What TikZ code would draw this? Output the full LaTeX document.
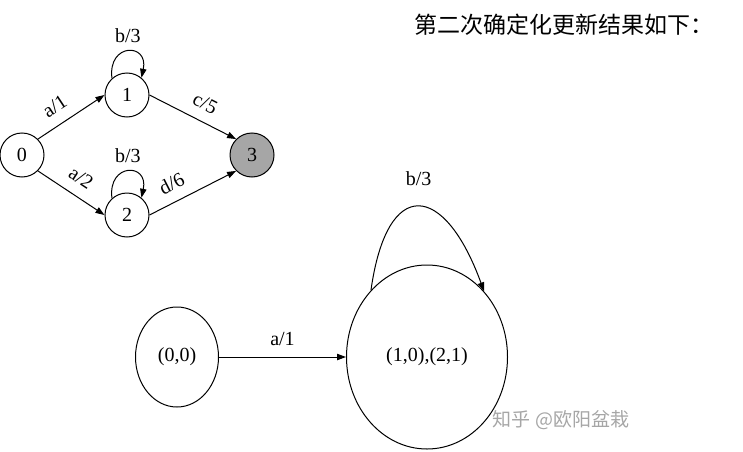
\documentclass[tikz,border=0pt]{standalone}
\usepackage{fontspec}
\setmainfont{Liberation Serif}
\newfontfamily\cjk{Noto Sans CJK SC}
\usetikzlibrary{arrows.meta,shapes.geometric}

\begin{document}
\begin{tikzpicture}[
  x=0.5pt, y=0.5pt,
  state/.style={draw, circle, minimum size=22pt, inner sep=0pt, line width=0.5pt},
  bigstate/.style={draw, ellipse, inner sep=0pt, line width=0.5pt},
  arr/.style={-{Triangle[length=4.5pt,width=3.2pt]}, line width=0.5pt}
]
  \useasboundingbox (0,0) rectangle (743,451);

  % original automaton
  \node[state] (n0) at (22,296) {0};
  \node[state] (n1) at (127,356) {1};
  \node[state] (n2) at (127,236) {2};
  \node[state, fill=black!35] (n3) at (252,296) {3};

  \draw[arr] (n0.45) -- node[above=2pt, sloped, pos=0.4] {a/1} (n1.west);
  \draw[arr] (n0.-45) -- node[above=2pt, sloped, pos=0.5] {a/2} (n2.west);
  \draw[arr] (n1.east) -- node[above=2pt, sloped, pos=0.55] {c/5} (n3.135);
  \draw[arr] (n2.east) -- node[above=2pt, sloped, pos=0.35] {d/6} (n3.-135);
  \draw[arr] (n1.132) .. controls +(97:36) and +(78:36) .. node[above=1pt] {b/3} (n1.50);
  \draw[arr] (n2.132) .. controls +(97:36) and +(78:36) .. node[above=1pt] {b/3} (n2.50);

  \node (title) at (564,426) {\cjk\fontsize{11.5}{14}\selectfont 第二次确定化更新结果如下：};

  % determinised result
  \node[bigstate, minimum width=41.5pt, minimum height=50pt] (s00) at (177,94) {(0,0)};
  \node[bigstate, minimum width=80.5pt, minimum height=92pt] (s1021) at (427,94) {(1,0),(2,1)};

  \draw[arr] (s00) -- node[above=2pt] {a/1} (s1021);
  \draw[arr] (s1021.130) .. controls +(82:116) and +(110:116) .. node[above=7pt] {b/3} (s1021.49);

  \node[text=black!35] (mark) at (561,31) {\cjk\fontsize{9.5}{12}\selectfont 知乎 @欧阳盆栽};
\end{tikzpicture}
\end{document}
